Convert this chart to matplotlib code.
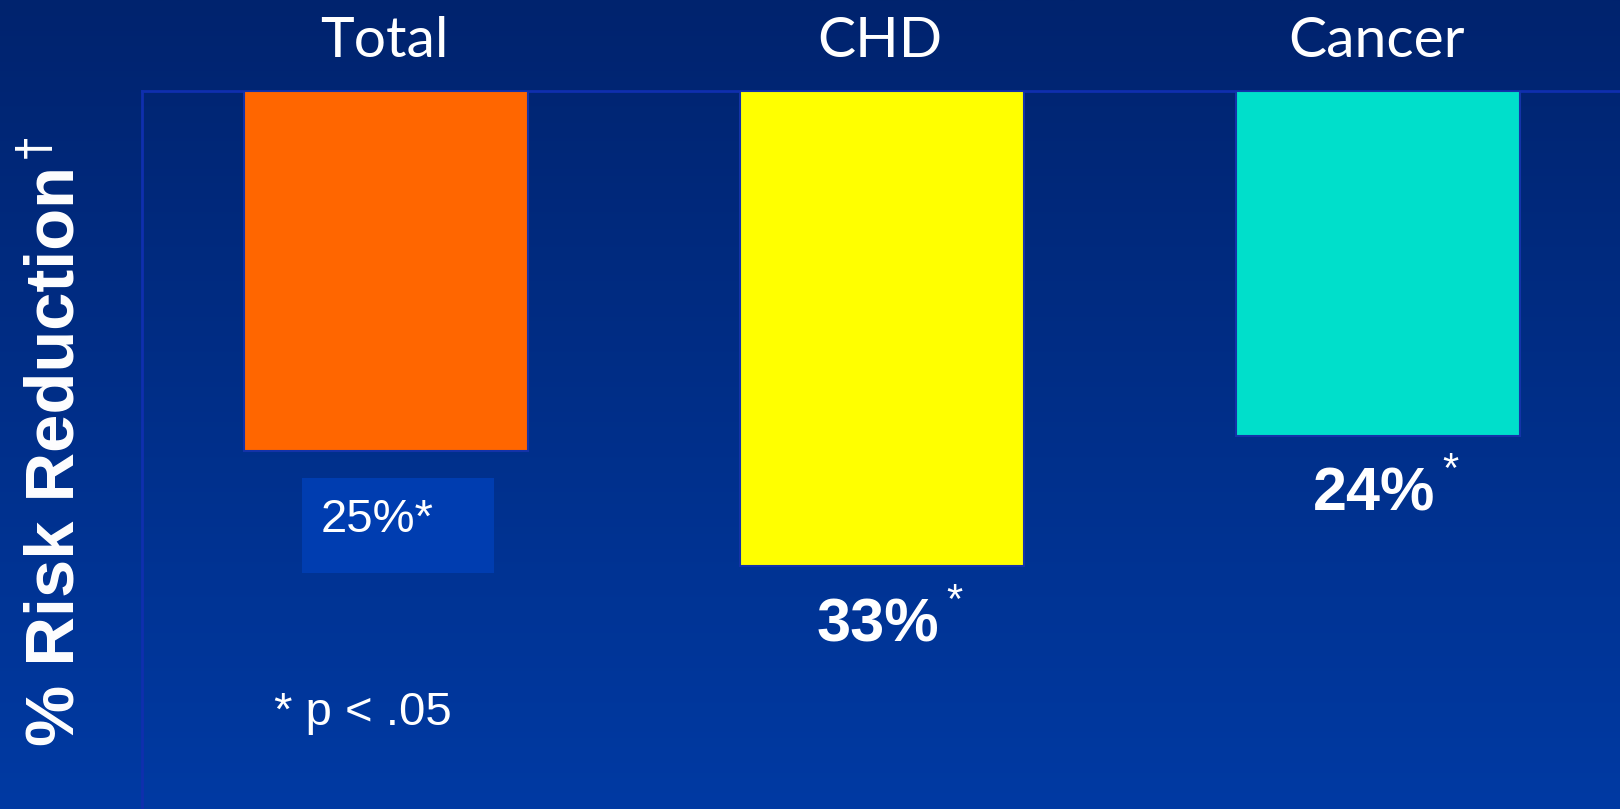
import numpy as np
import matplotlib
matplotlib.use("Agg")
import matplotlib.pyplot as plt
from matplotlib.patches import Rectangle
import matplotlib.transforms as mtransforms

# Data
categories = ["Total", "CHD", "Cancer"]
reduction = [25, 33, 24]
bar_colors = ["#FF6600", "#FFFF00", "#00DFCB"]
footnote = "* p < .05"
ylabel = "% Risk Reduction"

W, H, DPI = 1620, 809, 100
fig = plt.figure(figsize=(W / DPI, H / DPI), dpi=DPI)

# Vertical navy-to-blue background gradient over the whole slide
bg = fig.add_axes([0, 0, 1, 1], zorder=-10)
top = np.array([0, 35, 110]) / 255
bottom = np.array([0, 58, 163]) / 255
t = np.linspace(0, 1, 512)[:, None]
grad = (top[None, :] * (1 - t) + bottom[None, :] * t)[:, None, :]
bg.imshow(grad, aspect="auto", extent=[0, 1, 0, 1], origin="upper")
bg.set_axis_off()

def px(x, y):
    return x / W, 1 - y / H

ax_left, ax_top = 141.5, 91
ax = fig.add_axes([ax_left / W, 0, 1 - ax_left / W, 1 - ax_top / H])
ax.patch.set_alpha(0)

x = np.arange(len(categories))
ax.bar(x, reduction, width=0.573, color=bar_colors,
       edgecolor="#1433a8", linewidth=1.5, zorder=3)
ax.set_xlim(-0.493, 2.489)
ax.set_ylim(49.9, 0)

for side in ("bottom", "right"):
    ax.spines[side].set_visible(False)
for side in ("left", "top"):
    ax.spines[side].set_color("#0f2fae")
    ax.spines[side].set_linewidth(2)
ax.set_xticks([])
ax.set_yticks([])

# Category names above the plot area
lbl_tr = mtransforms.blended_transform_factory(ax.transData, fig.transFigure)
for xi, name in zip(x, categories):
    ax.text(xi - 0.003, 1 - 57 / H, name, transform=lbl_tr, ha="center",
            va="baseline", color="white", fontsize=41, family="Lato")

# Value labels
# Total: plain label inside a lighter blue box
box_y0, box_y1 = 26.9, 33.5
ax.add_patch(Rectangle((-0.169, box_y0), 0.387, box_y1 - box_y0,
                       facecolor="#003DB0", edgecolor="none", zorder=2))
ax.text(-0.131, reduction[0] + 4.8, f"{reduction[0]}%*", ha="left",
        va="center", color="white", fontsize=34, family="Liberation Sans",
        zorder=4)

# CHD and Cancer: bold labels with a superscript star
offsets = {1: 4.2, 2: 4.1}
for i, dy in offsets.items():
    ax.text(x[i] - 0.007, reduction[i] + dy, f"{reduction[i]}%", ha="center",
            va="center", color="white", fontsize=44, fontweight="bold",
            family="Liberation Sans", zorder=4)
    ax.annotate("*", xy=(x[i] - 0.007, reduction[i] + dy), xytext=(49, 3),
                textcoords="offset points", ha="left", va="bottom",
                color="white", fontsize=30, family="Liberation Sans", zorder=4)

ax.text(-0.226, 43.2, footnote, ha="left", va="center", color="white",
        fontsize=34, family="Liberation Sans", zorder=4)

# Rotated axis title with dagger
fig.text(*px(56, 456), ylabel, rotation=90, ha="center", va="center",
         color="white", fontsize=49.5, fontweight="bold",
         family="Liberation Sans")
fig.text(*px(35, 147), "\u2020", rotation=90, ha="center", va="center",
         color="white", fontsize=32, family="DejaVu Sans")

fig.savefig("out.png", dpi=DPI)
